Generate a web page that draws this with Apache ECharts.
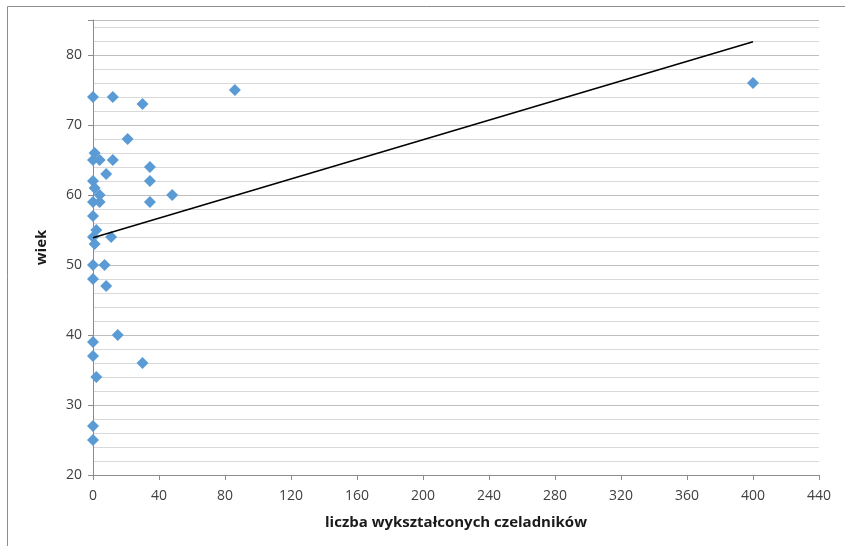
<!DOCTYPE html>
<html>
<head>
<meta charset="utf-8">
<script src="https://cdn.jsdelivr.net/npm/echarts@6/dist/echarts.min.js"></script>
<style>
html,body{margin:0;padding:0;background:#fff;}
#chart{width:845px;height:546px;}
</style>
</head>
<body>
<div id="chart"></div>
<script>
// Data
var craftsmen = [0, 12, 30, 86, 400, 21, 1, 0, 4, 12, 34.5, 8, 0, 34.5, 1, 4, 48, 0, 4, 34.5, 0, 2, 0, 11, 1, 0, 7, 0, 8, 15, 0, 0, 30, 2, 0, 0];
var ages =      [74, 74, 73, 75, 76, 68, 66, 65, 65, 65, 64, 63, 62, 62, 61, 60, 60, 59, 59, 59, 57, 55, 54, 54, 53, 50, 50, 48, 47, 40, 39, 37, 36, 34, 27, 25];
var trendX = [0, 400];
var trendY = [53.9, 81.9];
var xTitle = 'liczba wykształconych czeladników';
var yTitle = 'wiek';

var points = craftsmen.map(function (x, i) { return [x, ages[i]]; });
var trend = trendX.map(function (x, i) { return [x, trendY[i]]; });

var font = '"Open Sans", Lato, sans-serif';
var chart = echarts.init(document.getElementById('chart'), null, {renderer: 'canvas'});
chart.setOption({
  animation: false,
  backgroundColor: '#ffffff',
  graphic: [{
    type: 'rect',
    left: 5, top: 4,
    shape: {width: 900, height: 600},
    style: {fill: 'none', stroke: '#8c8c8c', lineWidth: 1},
    silent: true, z: -10
  }],
  grid: {left: 93, right: 26, top: 20, bottom: 71, containLabel: false},
  xAxis: {
    type: 'value',
    min: 0, max: 440, interval: 40,
    name: xTitle,
    nameLocation: 'middle',
    nameGap: 48,
    nameTextStyle: {fontFamily: font, fontSize: 15, fontWeight: 'bold', color: '#1a1a1a', verticalAlign: 'middle'},
    axisLine: {show: true, lineStyle: {color: '#8c8c8c', width: 1}},
    axisTick: {show: true, length: 5, lineStyle: {color: '#8c8c8c'}},
    axisLabel: {fontFamily: font, fontSize: 14, color: '#404040', margin: 14},
    splitLine: {show: false}
  },
  yAxis: {
    type: 'value',
    min: 20, max: 85, interval: 10,
    name: yTitle,
    nameLocation: 'middle',
    nameGap: 51,
    nameRotate: 90,
    nameTextStyle: {fontFamily: font, fontSize: 15, fontWeight: 'bold', color: '#1a1a1a', verticalAlign: 'middle'},
    axisLine: {show: true, lineStyle: {color: '#8c8c8c', width: 1}},
    axisTick: {show: true, length: 5, lineStyle: {color: '#8c8c8c'}},
    axisLabel: {fontFamily: font, fontSize: 14, color: '#404040', margin: 11,
      formatter: function (v) { return v > 80 ? '' : v; }},
    splitLine: {show: true, lineStyle: {color: '#bfbfbf', width: 1}},
    minorTick: {show: false, splitNumber: 5},
    minorSplitLine: {show: true, lineStyle: {color: '#d9d9d9', width: 1}}
  },
  series: [{
    type: 'scatter',
    data: points,
    symbol: 'diamond',
    symbolSize: [12, 12],
    itemStyle: {color: '#5b9bd5', opacity: 1},
    z: 3
  }, {
    type: 'line',
    data: trend,
    symbol: 'none',
    lineStyle: {color: '#000000', width: 1.5},
    z: 4
  }]
});
</script>
</body>
</html>
